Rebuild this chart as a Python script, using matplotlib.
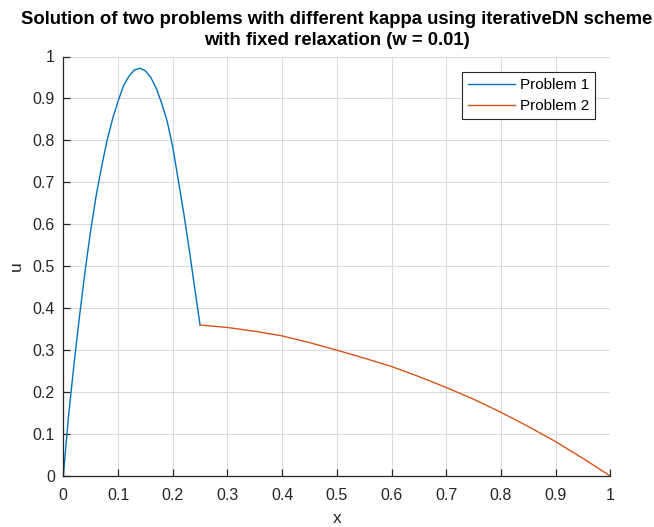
import matplotlib
matplotlib.use("Agg")
import matplotlib.pyplot as plt

plt.rcParams['font.family'] = ['Liberation Sans', 'DejaVu Sans']

# Problem 1 (x in [0, 0.25])
x1 = [0.0, 0.005, 0.01, 0.02, 0.03, 0.04, 0.05, 0.06, 0.07, 0.08, 0.09, 0.10, 0.11,
      0.12, 0.13, 0.14, 0.15, 0.16, 0.17, 0.18, 0.19, 0.20, 0.21, 0.22, 0.23, 0.24, 0.25]
u1 = [0.0, 0.075, 0.148, 0.272, 0.385, 0.49, 0.585, 0.668, 0.737, 0.80, 0.851, 0.893, 0.93,
      0.953, 0.968, 0.972, 0.966, 0.950, 0.924, 0.888, 0.845, 0.785, 0.707, 0.628, 0.542, 0.45, 0.36]

# Problem 2 (x in [0.25, 1])
x2 = [0.25, 0.30, 0.35, 0.40, 0.45, 0.50, 0.55, 0.60, 0.65, 0.70, 0.75, 0.80, 0.85, 0.90, 0.95, 1.0]
u2 = [0.36, 0.354, 0.345, 0.334, 0.318, 0.300, 0.281, 0.261, 0.237, 0.211, 0.183, 0.152, 0.118, 0.082, 0.042, 0.0]

ticks = [0, 0.1, 0.2, 0.3, 0.4, 0.5, 0.6, 0.7, 0.8, 0.9, 1]
tick_labels = ['0', '0.1', '0.2', '0.3', '0.4', '0.5', '0.6', '0.7', '0.8', '0.9', '1']

fig = plt.figure(figsize=(6.54, 5.27), dpi=100)
ax_left, ax_right, ax_top, ax_bottom = 63.3, 610.3, 56.5, 476
ax = fig.add_axes([ax_left/654, 1 - ax_bottom/527, (ax_right - ax_left)/654, (ax_bottom - ax_top)/527])

ax.plot(x1, u1, color='#0072BD', lw=1.0, label='Problem 1')
ax.plot(x2, u2, color='#D95319', lw=1.0, label='Problem 2')

ax.set_xlim(0, 1)
ax.set_ylim(0, 1)
ax.set_xticks(ticks)
ax.set_xticklabels(tick_labels)
ax.set_yticks(ticks)
ax.set_yticklabels(tick_labels)
ax.grid(True, color='#dcdcdc', lw=0.8)
ax.set_axisbelow(True)
for s in ['top', 'right']:
    ax.spines[s].set_visible(False)
for s in ['left', 'bottom']:
    ax.spines[s].set_color('#262626')
    ax.spines[s].set_linewidth(0.9)
ax.tick_params(direction='in', length=5, width=0.9, colors='#262626', labelsize=11.5,
               labelcolor='#262626')
ax.tick_params(axis='x', pad=9)
ax.tick_params(axis='y', pad=6)

ax.set_xlabel('x', fontsize=12.5, color='#262626', labelpad=5.5)
ax.set_ylabel('u', fontsize=12.5, color='#262626', labelpad=6)
ax.set_title('Solution of two problems with different kappa using iterativeDN scheme\nwith fixed relaxation (w = 0.01)',
             fontsize=13.3, fontweight='bold', color='black', pad=8, linespacing=1.3)

leg = ax.legend(loc='upper right', fancybox=False, framealpha=1,
                edgecolor='#262626', fontsize=11, handlelength=3.1, borderpad=0.4,
                labelspacing=0.45, handletextpad=0.3, borderaxespad=0)
leg.get_frame().set_linewidth(0.8)
leg.set_bbox_to_anchor(((595 - ax_left)/(ax_right - ax_left), 1 - (72 - ax_top)/(ax_bottom - ax_top)),
                       transform=ax.transAxes)

fig.savefig('out.png', dpi=100)
